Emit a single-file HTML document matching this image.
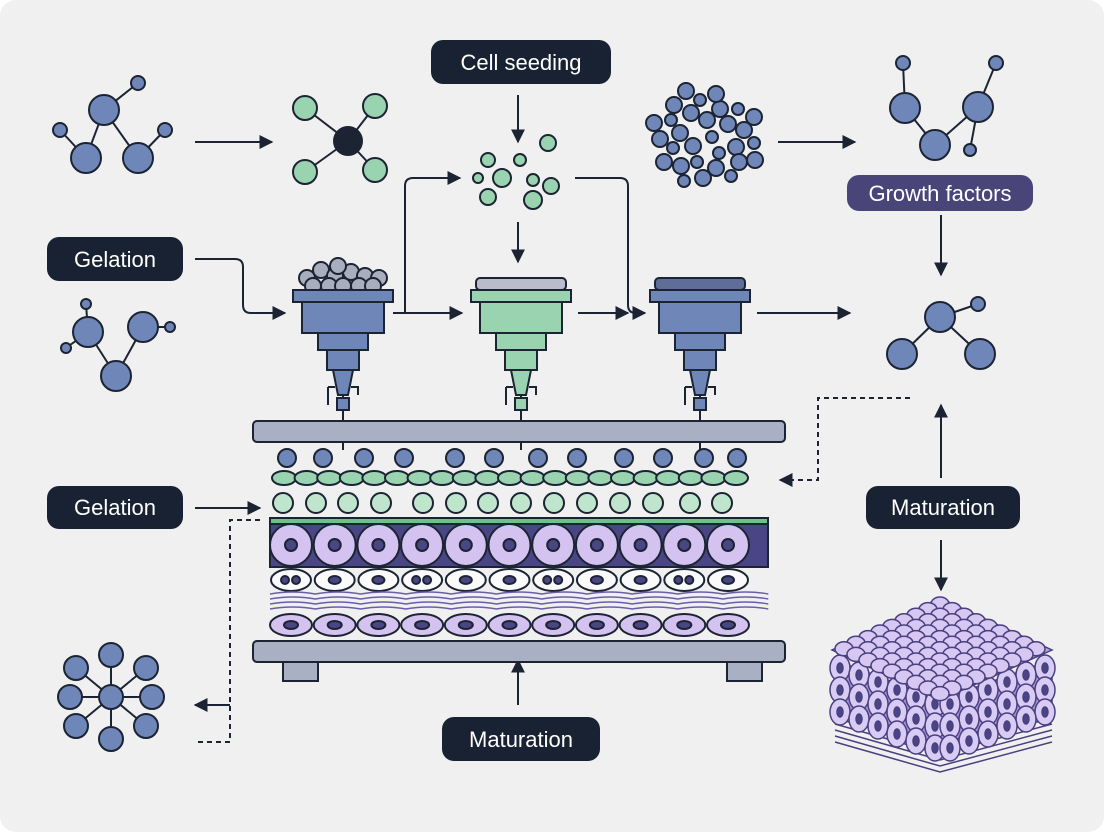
<!DOCTYPE html>
<html><head><meta charset="utf-8"><style>
html,body{margin:0;padding:0;background:#fff}
svg{display:block}
text{font-family:"Liberation Sans",sans-serif}
</style></head><body>
<svg id="s" width="1104" height="832" viewBox="0 0 1104 832" xmlns="http://www.w3.org/2000/svg">
<defs>
<marker id="ah" viewBox="0 0 10 10" refX="9" refY="5" markerWidth="7" markerHeight="7" orient="auto"><path d="M0,0L10,5L0,10z" fill="#1c2433"/></marker>
</defs>
<rect x="0" y="0" width="1104" height="832" rx="16" fill="#f0f0f0"/>
<g id="g" stroke="#1c2433" stroke-width="2"></g>
<g id="labels">
<rect x="431" y="40" width="180" height="44" rx="12" fill="#182232"/>
<text x="521" y="70" font-size="22" fill="#fff" text-anchor="middle">Cell seeding</text>
<rect x="847" y="175" width="186" height="36" rx="12" fill="#4a4578"/>
<text x="940" y="201" font-size="22" fill="#fff" text-anchor="middle">Growth factors</text>
<rect x="47" y="237" width="136" height="44" rx="12" fill="#182232"/>
<text x="115" y="267" font-size="22" fill="#fff" text-anchor="middle">Gelation</text>
<rect x="47" y="486" width="136" height="43" rx="12" fill="#182232"/>
<text x="115" y="515" font-size="22" fill="#fff" text-anchor="middle">Gelation</text>
<rect x="866" y="486" width="154" height="43" rx="12" fill="#182232"/>
<text x="943" y="515" font-size="22" fill="#fff" text-anchor="middle">Maturation</text>
<rect x="442" y="717" width="158" height="44" rx="12" fill="#182232"/>
<text x="521" y="747" font-size="22" fill="#fff" text-anchor="middle">Maturation</text>
</g>
</svg>
<script>
var g=document.getElementById('g'),h='';
var D='#1c2433',B='#6f86b8',G='#9ad3b0',P='#d4c2f0',DP='#4a4585';
function c(x,y,r,f){h+='<circle cx="'+x+'" cy="'+y+'" r="'+r+'" fill="'+f+'"/>';}
function l(a,b,x,y){h+='<line x1="'+a+'" y1="'+b+'" x2="'+x+'" y2="'+y+'"/>';}
function e(x,y,rx,ry,f,sw){h+='<ellipse cx="'+x+'" cy="'+y+'" rx="'+rx+'" ry="'+ry+'" fill="'+f+'"'+(sw?' stroke-width="'+sw+'"':'')+'/>';}
function r(x,y,w,hh,f,rx){h+='<rect x="'+x+'" y="'+y+'" width="'+w+'" height="'+hh+'" fill="'+f+'" rx="'+(rx||0)+'"/>';}
function p(d,extra,noarrow){h+='<path d="'+d+'" fill="none" '+(extra||'')+(noarrow?'':' marker-end="url(#ah)"')+'/>';}
function mol(nodes,edges){edges.forEach(function(q){l(nodes[q[0]][0],nodes[q[0]][1],nodes[q[1]][0],nodes[q[1]][1]);});nodes.forEach(function(n){c(n[0],n[1],n[2],n[3]||B);});}
mol([[104,110,15],[138,83,7],[60,130,7],[86,158,15],[138,158,15],[165,130,7]],[[0,1],[0,3],[0,4],[2,3],[4,5]]);
mol([[88,332,15],[86,304,5],[66,348,5],[143,327,15],[170,327,5],[116,376,15]],[[0,1],[0,2],[0,5],[5,3],[3,4]]);
mol([[348,141,14,D],[305,108,12,G],[375,106,12,G],[305,172,12,G],[375,170,12,G]],[[0,1],[0,2],[0,3],[0,4]]);
mol([[903,63,7],[905,108,15],[935,145,15],[978,107,15],[996,63,7],[970,150,6]],[[0,1],[1,2],[2,3],[3,4],[3,5]]);
mol([[940,317,15],[978,304,7],[902,354,15],[980,354,15]],[[0,1],[0,2],[0,3]]);
var st=[[111,655],[76,668],[146,668],[70,697],[152,697],[76,726],[146,726],[111,739]];
st.forEach(function(n){l(111,697,n[0],n[1]);});st.forEach(function(n){c(n[0],n[1],12,B);});c(111,697,12,B);
[[488,160,7],[520,160,6],[548,143,8],[502,178,9],[533,180,6],[551,186,8],[488,197,8],[533,200,9],[478,178,5]].forEach(function(q){c(q[0],q[1],q[2],G);});
for(var i=0;i<30;i++){var a=i*2.4,rr=6+Math.sqrt(i)*8.5;c(Math.round(705+rr*Math.cos(a)*1.1),Math.round(137+rr*Math.sin(a)*0.95),i%3?8:6,B);}
p('M195,142H272');p('M778,142H855');p('M518,95V142');p('M518,222V262');p('M941,215V275');
p('M195,259H235Q243,259 243,267V305Q243,313 251,313H285');
p('M393,313H462');p('M405,313V186Q405,178 413,178H460');
p('M575,178H620Q628,178 628,186V305Q628,313 636,313H645');p('M578,313H628');
p('M757,313H850');
p('M195,508H260');p('M941,478V405');p('M941,540V590');p('M518,705V660');
p('M910,398H818V480H780','stroke-dasharray="5,4"');
p('M260,520H230V742H195','stroke-dasharray="5,4"',true);
p('M230,705H195');
[[343,B],[521,G],[700,B]].forEach(function(q){var x=q[0],f=q[1];
 l(x,395,x,450);
 if(x==343){[[-36,-12],[-22,-20],[-8,-14],[8,-18],[22,-14],[36,-12],[-30,-4],[-14,-4],[0,-4],[16,-4],[30,-4],[-5,-24]].forEach(function(o){c(x+o[0],290+o[1],8,'#a8aebe');});}
 else{r(x-45,278,90,12,x==521?'#b8bccb':'#5e6e98',4);}
 r(x-50,290,100,12,f);r(x-41,302,82,31,f);r(x-25,333,50,17,f);r(x-16,350,32,20,f);
 h+='<path d="M'+(x-10)+',370H'+(x+10)+'L'+(x+5)+',395H'+(x-5)+'Z" fill="'+f+'"/>';
 h+='<path d="M'+(x-15)+',387V405M'+(x-15)+',387H'+(x-8)+'M'+(x+8)+',387H'+(x+15)+'V395" fill="none"/>';
 r(x-6,398,12,12,f);
});
r(253,421,532,21,'#aab0c4',4);r(253,641,532,21,'#aab0c4',4);r(283,662,35,19,'#aab0c4');r(727,662,35,19,'#aab0c4');
[287,323,364,404,455,494,538,577,624,663,704,737].forEach(function(x){c(x,458,9,B);});
for(var x=284;x<=756;x+=22.6)e(x.toFixed(1),478,12,7,G);
[283,316,348,381,423,456,488,521,554,587,620,653,690,722].forEach(function(x){c(x,503,10,'#bfe6cc');});
r(270,518,498,6,'#6ec08c');
r(270,524,498,43,DP);
for(var k=0;k<11;k++){var x=291+k*43.7;c(x.toFixed(1),545,21,P);c(x.toFixed(1),545,6,DP);}
for(var k=0;k<11;k++){var x=291+k*43.7;e(x.toFixed(1),580,20,11,'#fafafa');if(k%3==0){c(x-6,580,4,DP);c(x+5,580,4,DP);}else e(x.toFixed(1),580,6,4,DP);}
for(var y=594;y<=612;y+=5){var d='M270,'+y;for(var k=0;k<11;k++)d+=' q22.6,-4 45.3,0';h+='<path d="'+d+'" fill="none" stroke="#6a5ea8" stroke-width="1.5"/>';}
for(var k=0;k<11;k++){var x=291+k*43.7;e(x.toFixed(1),625,21,11,P);e(x.toFixed(1),625,7,4,DP);}
h+='<g stroke="#4a4080" stroke-width="1.5">';
for(var y=700;y<=745;y+=6)h+='<path d="M835,'+y+' L940,'+(y+30)+' L1052,'+y+'" fill="none"/>';
h+='<path d="M835,660 L940,700 L1052,660 L1052,705 L940,745 L835,705Z" fill="#a896d8"/>';
for(var row=0;row<3;row++)for(var k=0;k<6;k++){var t=k/5,xl=840+t*95,yl=668+t*36+row*22;e(xl.toFixed(0),yl.toFixed(0),10,13,'#d8ccf4');e(xl.toFixed(0),yl.toFixed(0),3,5,DP);var xr=1045-t*95;e(xr.toFixed(0),yl.toFixed(0),10,13,'#d8ccf4');e(xr.toFixed(0),yl.toFixed(0),3,5,DP);}
h+='<path d="M940,598 L1052,650 L940,700 L832,650Z" fill="#b9a6e0"/>';
for(var i=0;i<9;i++)for(var j=0;j<9;j++){var x=940+(i-j)*12,y=604+(i+j)*5.6;e(x,y.toFixed(1),9,7,'#d6c8f2');}
h+='</g>';
g.innerHTML=h;
</script>
</body></html>
